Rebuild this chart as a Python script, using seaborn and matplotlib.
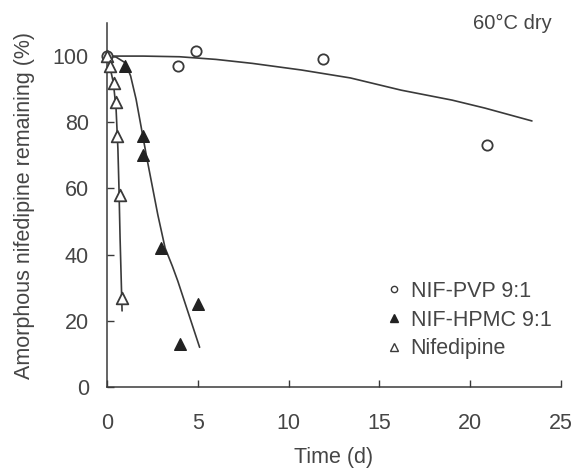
import matplotlib
matplotlib.use("Agg")
import matplotlib.pyplot as plt
import seaborn as sns
from matplotlib.lines import Line2D

# ---- data ----
pvp_t = [0, 3.9, 4.9, 11.9, 20.9]
pvp_y = [100, 97, 101.5, 99, 73]
hpmc_t = [1.0, 2.0, 2.0, 3.0, 4.0, 5.0]
hpmc_y = [97, 76, 70, 42, 13, 25]
nif_t = [0, 0.17, 0.39, 0.5, 0.55, 0.72, 0.83]
nif_y = [100, 97, 92, 86, 76, 58, 27]

# fitted curves
pvp_fit_t = [0, 2, 4, 6, 8, 10.7, 13.4, 16.2, 19, 20.8, 23.4]
pvp_fit_y = [100, 100, 99.8, 99, 97.8, 95.8, 93.4, 89.7, 86.7, 84.3, 80.4]
hpmc_fit_t = [0, 0.5, 1.0, 1.3, 1.6, 1.9, 2.2, 2.5, 2.8, 3.2, 3.6, 3.9, 4.2, 4.5, 5.1]
hpmc_fit_y = [100, 99.7, 98, 94, 87, 78, 69, 60.5, 52, 42, 36.5, 32, 27, 22, 12]
nif_fit_t = [0, 0.15, 0.35, 0.5, 0.6, 0.66, 0.72, 0.78, 0.83]
nif_fit_y = [100, 97, 92, 84, 72, 60, 45, 33, 23]

labels = ["NIF-PVP 9:1", "NIF-HPMC 9:1", "Nifedipine"]
xticks = [0, 5, 10, 15, 20, 25]
yticks = [0, 20, 40, 60, 80, 100]

sns.set_style("ticks")
plt.rcParams["font.family"] = ["Liberation Sans", "DejaVu Sans"]

ink = "#3a3a3a"
txt = "#454545"
fs = 15.5

fig = plt.figure(figsize=(5.83, 4.73), dpi=100)
ax = fig.add_axes([107 / 583, 1 - 387 / 473, (561 - 107) / 583, (387 - 23) / 473])

for t, y in [(pvp_fit_t, pvp_fit_y), (hpmc_fit_t, hpmc_fit_y), (nif_fit_t, nif_fit_y)]:
    sns.lineplot(x=t, y=y, ax=ax, color=ink, lw=1.2, sort=False, estimator=None)

sns.scatterplot(x=pvp_t, y=pvp_y, ax=ax, marker="o", s=55, facecolors="white",
                edgecolors=ink, linewidth=1.3, zorder=5, clip_on=False)
sns.scatterplot(x=hpmc_t, y=hpmc_y, ax=ax, marker="^", s=70, color="#222222",
                edgecolors="#222222", linewidth=1, zorder=5, clip_on=False)
sns.scatterplot(x=nif_t, y=nif_y, ax=ax, marker="^", s=70, facecolors="white",
                edgecolors=ink, linewidth=1.3, zorder=6, clip_on=False)

ax.set_xlim(0, 25)
ax.set_ylim(0, 110)
ax.set_xticks(xticks)
ax.set_yticks(yticks)
ax.tick_params(direction="in", length=5, width=1, colors=ink, labelcolor=txt,
               labelsize=fs)
ax.tick_params(axis="x", pad=19)
ax.tick_params(axis="y", pad=13)
for s in ["top", "right"]:
    ax.spines[s].set_visible(False)
for s in ["left", "bottom"]:
    ax.spines[s].set_color(ink)
    ax.spines[s].set_linewidth(1.1)

ax.set_xlabel("Time (d)", fontsize=fs, color=txt, labelpad=9)
ax.set_ylabel("Amorphous nifedipine remaining (%)", fontsize=fs, color=txt, labelpad=13)

ax.text(0.98, 1.0, "60°C dry", transform=ax.transAxes, ha="right", va="center",
        fontsize=14.5, color=txt)

handles = [
    Line2D([], [], ls="none", marker="o", ms=4.5, mfc="white", mec=ink, mew=1),
    Line2D([], [], ls="none", marker="^", ms=5.5, mfc="#222222", mec="#222222"),
    Line2D([], [], ls="none", marker="^", ms=5.5, mfc="white", mec=ink, mew=1),
]
leg = ax.legend(handles, labels, loc="center left", bbox_to_anchor=(0.619, 0.184),
                frameon=False, fontsize=fs, handlelength=0.6, handletextpad=0.45,
                labelspacing=0.37, borderpad=0, borderaxespad=0)
for t in leg.get_texts():
    t.set_color(txt)

fig.savefig("out.png", dpi=100, facecolor="white")
